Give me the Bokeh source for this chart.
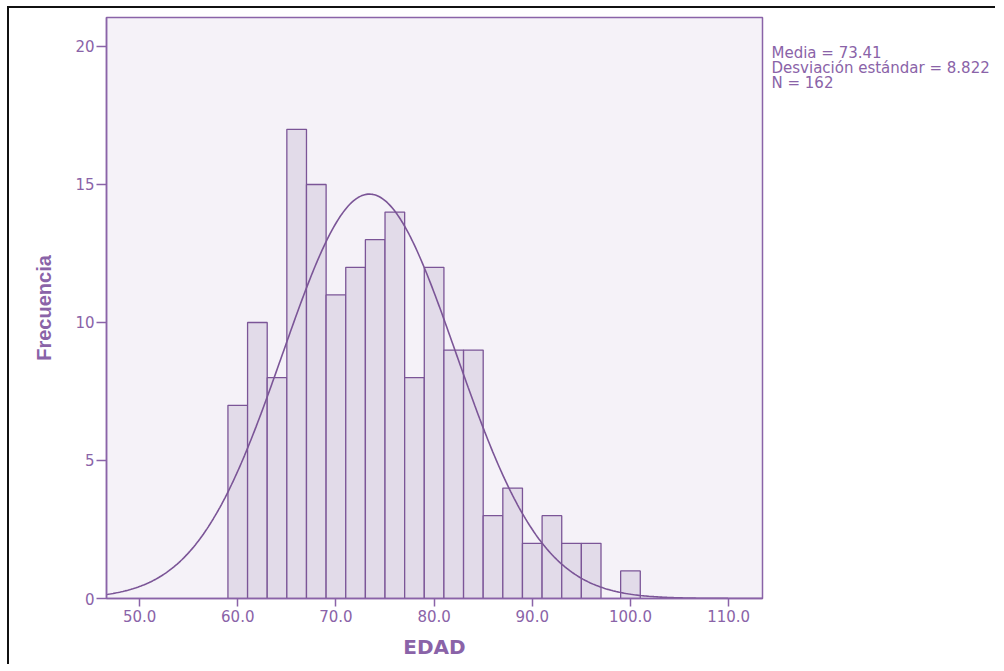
import numpy as np
from bokeh.plotting import figure
from bokeh.layouts import row
from bokeh.models import Range1d, FixedTicker, NumeralTickFormatter, ColumnDataSource
from bokeh.core.properties import value
from bokeh.embed import file_html
from bokeh.resources import INLINE

# Data
bin_centers = [60, 62, 64, 66, 68, 70, 72, 74, 76, 78, 80, 82, 84, 86, 88, 90, 92, 94, 96, 98, 100]
counts = [7, 10, 8, 17, 15, 11, 12, 13, 14, 8, 12, 9, 9, 3, 4, 2, 3, 2, 2, 0, 1]
bin_width = 2.0
mean_val = 73.41
sd_val = 8.822
n_val = 162
x_ticks = [50, 60, 70, 80, 90, 100, 110]
y_ticks = [0, 5, 10, 15, 20]
stats_lines = ["Media = 73.41", "Desviación estándar = 8.822", "N = 162"]

PURPLE = "#8a63a8"
DARK = "#7b5597"
H = 656

p = figure(width=761, height=H, output_backend="svg", toolbar_location=None,
           x_range=Range1d(46.63, 113.45), y_range=Range1d(0, 21.05),
           min_border_left=97, min_border_right=8, min_border_top=9, min_border_bottom=66)

p.background_fill_color = "#f5f2f8"
p.border_fill_color = "white"
p.outline_line_color = PURPLE
p.outline_line_width = 1.5
p.grid.visible = False

src = ColumnDataSource(dict(x=[c for c, v in zip(bin_centers, counts) if v > 0],
                            top=[v for v in counts if v > 0]))
p.vbar(x="x", top="top", bottom=0, width=bin_width, source=src,
       fill_color="#e2dbe9", line_color=DARK, line_width=1.3)

xs = np.linspace(46.63, 113.45, 400)
ys = n_val * bin_width * np.exp(-0.5 * ((xs - mean_val) / sd_val) ** 2) / (sd_val * np.sqrt(2 * np.pi))
p.line(xs, ys, line_color=DARK, line_width=1.6)

for ax in (p.xaxis[0], p.yaxis[0]):
    ax.axis_line_color = PURPLE
    ax.axis_line_width = 1.5
    ax.major_tick_line_color = PURPLE
    ax.major_tick_line_width = 1.5
    ax.major_tick_in = 0
    ax.minor_tick_line_color = None
    ax.major_label_text_color = PURPLE
    ax.major_label_text_font = "DejaVu Sans"
    ax.major_label_text_font_size = "15px"
    ax.axis_label_text_color = PURPLE
    ax.axis_label_text_font_style = "bold"

p.xaxis.ticker = FixedTicker(ticks=x_ticks)
p.xaxis.formatter = NumeralTickFormatter(format="0.0")
p.xaxis.major_tick_out = 8
p.xaxis.major_label_standoff = 3
p.xaxis.axis_label = "EDAD"
p.xaxis.axis_label_text_font = "DejaVu Sans"
p.xaxis.axis_label_text_font_size = "20px"
p.xaxis.axis_label_standoff = 10

p.yaxis.ticker = FixedTicker(ticks=y_ticks)
p.yaxis.major_tick_out = 10
p.yaxis.major_label_standoff = 2
p.yaxis.axis_label = "Frecuencia"
p.yaxis.axis_label_text_font = "Liberation Sans"
p.yaxis.axis_label_text_font_size = "20px"
p.yaxis.axis_label_standoff = 17

# side panel holding the summary statistics (its frame is aligned with the main frame)
p2 = figure(width=225, height=H, output_backend="svg", toolbar_location=None,
            x_range=Range1d(0, 225), y_range=Range1d(598, 17),
            x_axis_type=None, y_axis_type=None, min_border=0)
p2.grid.visible = False
p2.outline_line_color = None
p2.background_fill_color = "white"
p2.border_fill_color = "white"
p2.text(x=[1] * len(stats_lines), y=[52 + 15 * i for i in range(len(stats_lines))],
        text=stats_lines, text_font=value("DejaVu Sans"), text_font_size=value("15px"),
        text_color=PURPLE, text_baseline="middle", text_align="left")

layout = row(p, p2)
layout.styles = {"border-left": "2px solid #111", "border-top": "2px solid #111",
                 "margin-left": "7px", "margin-top": "6px"}

open("out.html", "w").write(file_html(layout, INLINE))
